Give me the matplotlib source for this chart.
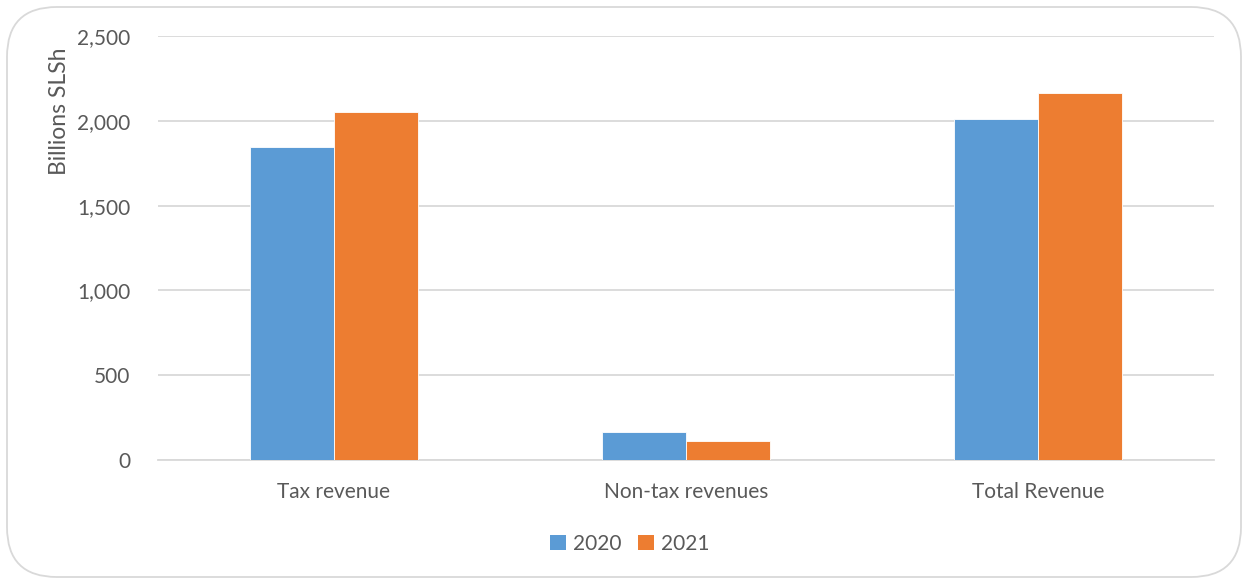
import numpy as np
import matplotlib.pyplot as plt
from matplotlib.patches import FancyBboxPatch, Patch

categories = ["Tax revenue", "Non-tax revenues", "Total Revenue"]
years = ["2020", "2021"]
rev_2020 = [1847, 163, 2011]
rev_2021 = [2054, 110, 2164]

blue = "#5B9BD5"
orange = "#ED7D31"
grey_txt = "#595959"
grid_col = "#D9D9D9"

plt.rcParams["font.family"] = ["Lato", "DejaVu Sans"]

fig = plt.figure(figsize=(12.44, 5.79), dpi=100)
W, H = 1244, 579

# rounded chart frame, kept behind the axes
frame = FancyBboxPatch((7 / W, 2 / H), 1234 / W, 570 / H,
                       boxstyle="round,pad=0,rounding_size=0.04",
                       transform=fig.transFigure, facecolor="white",
                       edgecolor="#D9D9D9", linewidth=1.3,
                       mutation_aspect=W / H, zorder=-5)
fig.patches.append(frame)

ax = fig.add_axes([158 / W, (H - 460) / H, 1056 / W, 424 / H])
ax.set_facecolor("none")
ax.set_zorder(3)

x = np.arange(len(categories))
bw = 0.238
ax.bar(x - bw / 2, rev_2020, bw, color=blue, edgecolor="white", linewidth=0.6, label=years[0], zorder=3)
ax.bar(x + bw / 2, rev_2021, bw, color=orange, edgecolor="white", linewidth=0.6, label=years[1], zorder=3)

ax.set_xlim(-0.5, 2.5)
ax.set_ylim(0, 2500)
ax.set_yticks(np.arange(0, 2501, 500))
ax.set_yticklabels([f"{v:,}" for v in range(0, 2501, 500)])
ax.set_xticks(x)
ax.set_xticklabels(categories)
ax.yaxis.grid(True, color=grid_col, linewidth=1.3, zorder=0)
for s in ["top", "right", "left"]:
    ax.spines[s].set_visible(False)
ax.spines["bottom"].set_color(grid_col)
ax.spines["bottom"].set_linewidth(1.3)
ax.tick_params(axis="both", length=0, colors=grey_txt, labelsize=15)
ax.tick_params(axis="y", pad=20)
ax.tick_params(axis="x", pad=16)

fig.text(60 / W, 1 - 111 / H, "Billions SLSh", rotation=90, ha="center", va="center",
         color=grey_txt, fontsize=16.5)

handles = [Patch(facecolor=blue, label=years[0]), Patch(facecolor=orange, label=years[1])]
fig.legend(handles=handles, loc="center", bbox_to_anchor=(630 / W, 1 - 544 / H), ncol=2,
           frameon=False, fontsize=15, labelcolor=grey_txt, handlelength=0.75,
           handleheight=0.75, handletextpad=0.35, columnspacing=0.8)

fig.savefig("out.png", dpi=100)
